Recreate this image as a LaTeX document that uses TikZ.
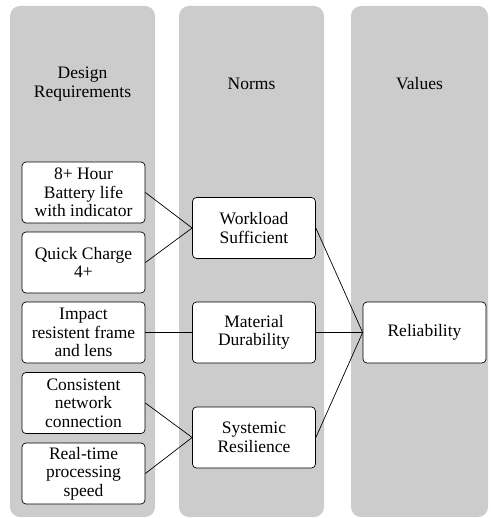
\documentclass[tikz,border=0pt]{standalone}
\usepackage{fontspec}
\setmainfont{Liberation Serif}
\usetikzlibrary{positioning}

\definecolor{lanegray}{RGB}{204,204,204}

\tikzset{
  lane/.style={fill=lanegray, draw=none, rounded corners=10pt},
  head/.style={align=center, inner sep=0pt, font=\fontsize{17.5}{18.5}\selectfont},
  box/.style={draw, fill=white, rounded corners=4pt, line width=0.7pt, align=center,
    minimum width=123pt, minimum height=61pt, inner sep=0pt,
    font=\fontsize{17.5}{18.5}\selectfont},
  link/.style={line width=0.7pt}
}

\begin{document}
\begin{tikzpicture}[x=1pt,y=-1pt]
\useasboundingbox (0,0) rectangle (490,518);

% the three lanes
\fill[lane] (10,6) rectangle (155,517);
\fill[lane] (179,6) rectangle (324,517);
\fill[lane] (351,6) rectangle (488,517);

\node[head] (hreq) at (82.5,84) {Design\\Requirements};
\node[head] (hnorm) at (251.5,84) {Norms};
\node[head] (hval) at (419.5,84) {Values};

% design requirements
\node[box] (battery) at (83.5,192.5) {8+ Hour\\Battery life\\with indicator};
\node[box] (charge) at (83.5,262.5) {Quick Charge\\4+};
\node[box] (impact) at (83.5,332.5) {Impact\\resistent frame\\and lens};
\node[box] (network) at (83.5,403) {Consistent\\network\\connection};
\node[box] (speed) at (83.5,473.5) {Real-time\\processing\\speed};

% norms
\node[box] (workload) at (254,228) {Workload\\Sufficient};
\node[box] (material) at (254,332.5) {Material\\Durability};
\node[box] (systemic) at (254,437.5) {Systemic\\Resilience};

% values
\node[box] (reliab) at (424.5,332.5) {Reliability};

\draw[link] (battery.east)--(workload.west);
\draw[link] (charge.east)--(workload.west);
\draw[link] (impact.east)--(material.west);
\draw[link] (network.east)--(systemic.west);
\draw[link] (speed.east)--(systemic.west);

\draw[link] (workload.east)--(reliab.west);
\draw[link] (material.east)--(reliab.west);
\draw[link] (systemic.east)--(reliab.west);
\end{tikzpicture}
\end{document}
